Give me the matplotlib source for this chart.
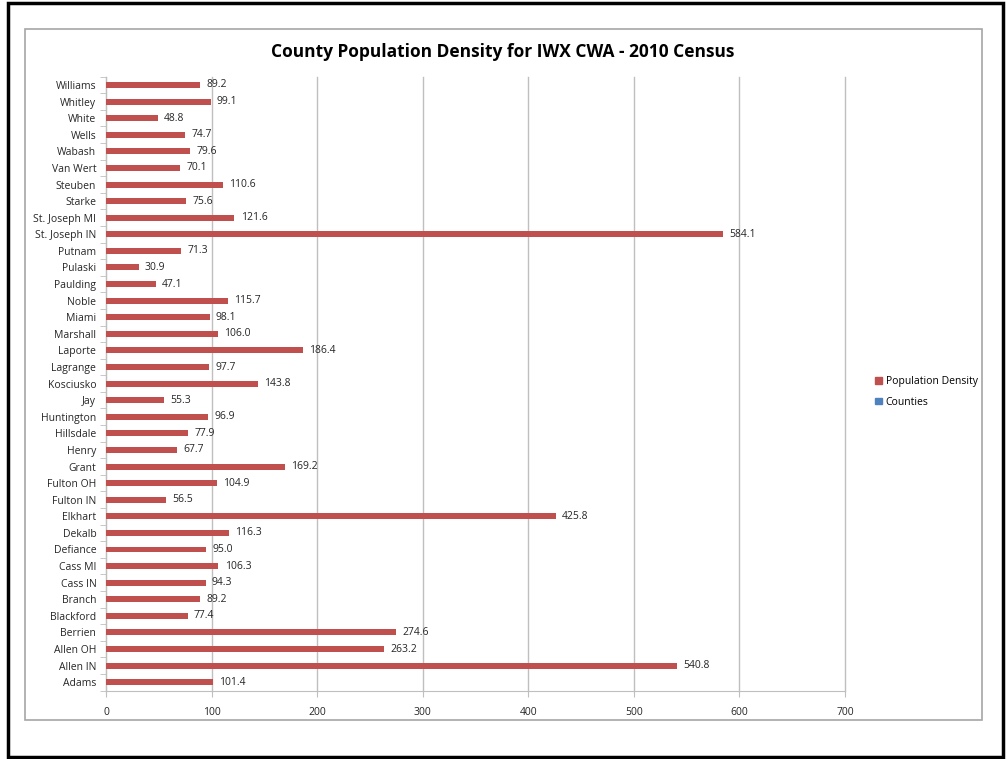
import matplotlib
matplotlib.use("Agg")
import matplotlib.pyplot as plt
from matplotlib.patches import Rectangle, Patch

counties = ["Adams", "Allen IN", "Allen OH", "Berrien", "Blackford", "Branch",
            "Cass IN", "Cass MI", "Defiance", "Dekalb", "Elkhart", "Fulton IN",
            "Fulton OH", "Grant", "Henry", "Hillsdale", "Huntington", "Jay",
            "Kosciusko", "Lagrange", "Laporte", "Marshall", "Miami", "Noble",
            "Paulding", "Pulaski", "Putnam", "St. Joseph IN", "St. Joseph MI",
            "Starke", "Steuben", "Van Wert", "Wabash", "Wells", "White",
            "Whitley", "Williams"]
density = [101.4, 540.8, 263.2, 274.6, 77.4, 89.2,
           94.3, 106.3, 95.0, 116.3, 425.8, 56.5,
           104.9, 169.2, 67.7, 77.9, 96.9, 55.3,
           143.8, 97.7, 186.4, 106.0, 98.1, 115.7,
           47.1, 30.9, 71.3, 584.1, 121.6,
           75.6, 110.6, 70.1, 79.6, 74.7, 48.8,
           99.1, 89.2]
xticks = [0, 100, 200, 300, 400, 500, 600, 700]

RED = "#C0504D"
BLUE = "#4F81BD"
GRID = "#BFBFBF"

plt.rcParams["font.family"] = ["Open Sans", "DejaVu Sans"]

fig = plt.figure(figsize=(10.07, 7.59), dpi=100)
W, H = 1007, 759

# outer black frame and grey chart-area border
fig.patches.append(Rectangle((8 / W, 1 - 757 / H), (1003 - 8) / W, (757 - 3) / H,
                             transform=fig.transFigure, fill=False,
                             edgecolor="black", lw=2.5))
fig.patches.append(Rectangle((25 / W, 1 - 720 / H), (982 - 25) / W, (720 - 29) / H,
                             transform=fig.transFigure, fill=False,
                             edgecolor="#A6A6A6", lw=1.2))

ax = fig.add_axes([106 / W, 1 - 690.5 / H, (845 - 106) / W, (690.5 - 76.7) / H])
y = range(len(counties))
ax.barh(y, density, height=0.36, color=RED, zorder=3)
for yi, v in zip(y, density):
    ax.text(v + 6, yi, f"{v:.1f}", va="center", ha="left", fontsize=7.5,
            color="#262626", zorder=4)

ax.set_xlim(0, 700)
ax.set_ylim(-0.5, len(counties) - 0.5)
ax.set_xticks(xticks)
ax.set_yticks(list(y))
ax.set_yticklabels(counties)
ax.tick_params(axis="y", length=0, labelsize=7.5, pad=7, labelcolor="#262626")
ax.tick_params(axis="x", length=4, color=GRID, labelsize=7.5, pad=8,
               labelcolor="#262626")
ax.set_yticks([i - 0.5 for i in range(len(counties) + 1)], minor=True)
ax.tick_params(axis="y", which="minor", length=4, color=GRID)
for gl in ax.get_xgridlines():
    gl.set_clip_on(False)
ax.xaxis.grid(True, color=GRID, lw=1.0, zorder=0)
for gl in ax.get_xgridlines():
    gl.set_clip_on(False)
for side in ("top", "right"):
    ax.spines[side].set_visible(False)
for side in ("left", "bottom"):
    ax.spines[side].set_color(GRID)

fig.text(503 / W, 1 - 52 / H, "County Population Density for IWX CWA - 2010 Census",
         ha="center", va="center", fontsize=12.5, fontweight="bold",
         color="black")

handles = [Patch(color=RED, label="Population Density"),
           Patch(color=BLUE, label="Counties")]
fig.legend(handles=handles, loc="center left",
           bbox_to_anchor=(866 / W, 1 - 392 / H), frameon=False, fontsize=7.5,
           handlelength=0.6, handleheight=0.6, handletextpad=0.4,
           labelspacing=0.9)

fig.savefig("out.png", dpi=100)
